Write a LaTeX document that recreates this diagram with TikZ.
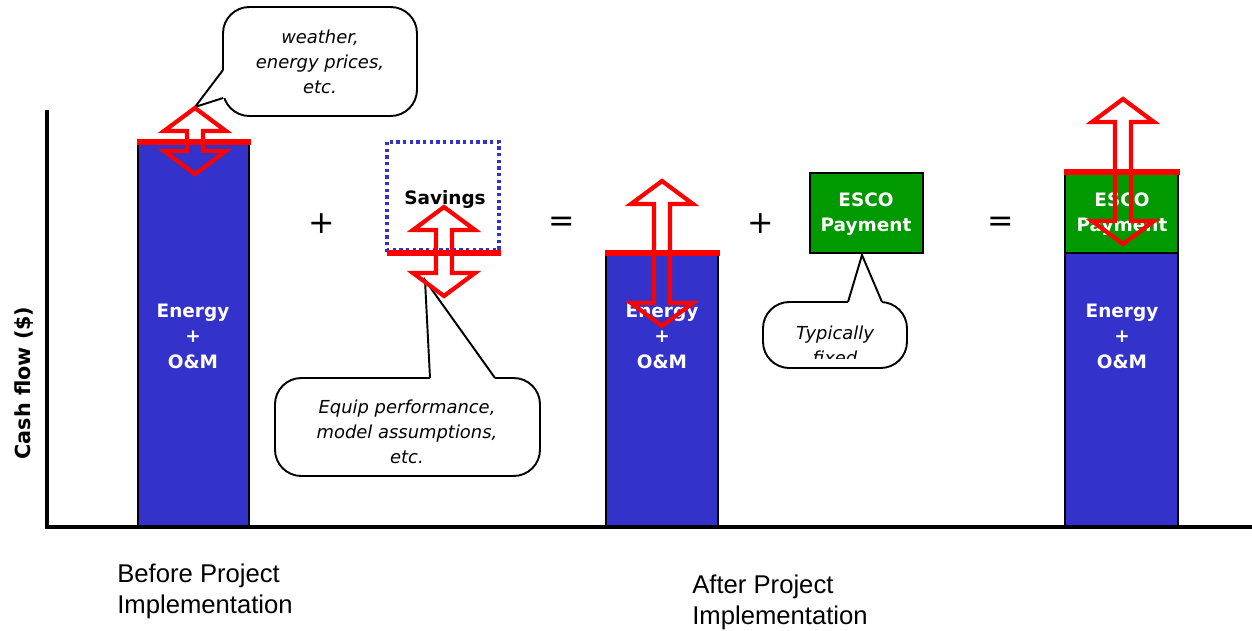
\documentclass[tikz,border=0pt]{standalone}
\usepackage{fontspec}
\setmainfont{DejaVu Sans}
\newfontfamily\labelfont{Liberation Sans}
\definecolor{barblue}{HTML}{3333CC}
\definecolor{escogreen}{HTML}{009900}

\newcommand{\rangearrow}[3]{%
  \draw[flux] (#1,#2) -- (#1+31,#2+23) -- (#1+8,#2+23) -- (#1+8,#3-23) -- (#1+31,#3-23) -- (#1,#3)
    -- (#1-31,#3-23) -- (#1-8,#3-23) -- (#1-8,#2+23) -- (#1-31,#2+23) -- cycle;}

\tikzset{
  flux/.style={draw=red, line width=2.4pt, line join=miter},
  level/.style={red, line width=3.4pt},
  barlabel/.style={text=white, font=\bfseries\fontsize{10.5}{14.5}\selectfont, align=center},
  note/.style={font=\itshape\fontsize{10.2}{14.2}\selectfont, align=center},
  bubble/.style={draw=black, fill=white, line width=1.1pt, rounded corners=15pt},
  sign/.style={font=\fontsize{18}{18}\selectfont},
  caption/.style={anchor=west, align=left, inner sep=0pt, font=\labelfont\fontsize{14.6}{17.6}\selectfont},
}

\begin{document}
\begin{tikzpicture}[x=0.02cm, y=-0.02cm]
    \useasboundingbox (0,0) rectangle (1252,630);

    % Axes
    \draw[line width=2.8pt] (47,110) -- (47,527) -- (1252,527);
    \node[rotate=90, font=\bfseries\fontsize{11.8}{13}\selectfont] (cash) at (24,383) {Cash flow (\$)};

    % Bars
    \draw[fill=barblue, line width=0.85pt] (138,142) rectangle (249,526);
    \draw[fill=barblue, line width=0.85pt] (606,253) rectangle (718,526);
    \draw[fill=barblue, line width=0.85pt] (1065,253) rectangle (1178,526);
    \draw[fill=escogreen, line width=0.85pt] (1065,172) rectangle (1178,253);
    \draw[fill=escogreen, line width=0.85pt] (810,173) rectangle (923,253);

    \node[barlabel] (costA) at (193,336) {Energy\\+\\O\&M};
    \node[barlabel] (costB) at (662,336) {Energy\\+\\O\&M};
    \node[barlabel] (costC) at (1122,336) {Energy\\+\\O\&M};
    \node[barlabel] (esco) at (866,214) {ESCO\\Payment};
    \node[barlabel] (escoC) at (1122,214) {ESCO\\Payment};

    % Savings
    \draw[barblue, line width=1.9pt, dash pattern=on 1.9pt off 1.9pt] (387,142) rectangle (499,250);
    \node[font=\bfseries\fontsize{10.5}{14.5}\selectfont] (savings) at (445,199) {Savings};

    % Levels
    \draw[level] (137,142) -- (251,142);
    \draw[level] (387,253) -- (501,253);
    \draw[level] (605,253) -- (720,253);
    \draw[level] (1064,172) -- (1180,172);

    % Signs
    \node[sign] (plusA) at (322,224) {+};
    \node[sign] (eqA) at (562,224) {=};
    \node[sign] (plusB) at (761,224) {+};
    \node[sign] (eqB) at (1001,224) {=};

    % Callouts
    \coordinate (tipA) at (195,107);
    \draw[bubble] (223,7) rectangle (417,116);
    \fill[white] (221,70) -- (226,70) -- (226,98) -- (221,98) -- cycle;
    \draw[line width=1.1pt] (223,70) -- (tipA) -- (223,98);
    \node[note] (weather) at (320,62) {weather,\\energy prices,\\etc.};

    \coordinate (tipB) at (425,280);
    \draw[bubble] (275,378) rectangle (540,476);
    \fill[white] (430,376) -- (495,376) -- (495,380.5) -- (430,380.5) -- cycle;
    \draw[line width=1.1pt] (430,378) -- (tipB) -- (495,378);
    \node[note] (equip) at (407,432) {Equip performance,\\model assumptions,\\etc.};

    \coordinate (tipC) at (862,255);
    \draw[bubble] (763,302) rectangle (907,368);
    \fill[white] (848,300) -- (882,300) -- (882,304.5) -- (848,304.5) -- cycle;
    \draw[line width=1.1pt] (848,302) -- (tipC) -- (882,302);
    \begin{scope}
        \clip (763,302) rectangle (907,358);
        \node[note] (fixed) at (835,345) {Typically\\fixed};
    \end{scope}

    % Uncertainty arrows
    \rangearrow{195}{108}{174}
    \rangearrow{444}{207}{296}
    \rangearrow{662}{181}{326}
    \rangearrow{1123}{99}{244}

    % Captions
    \node[caption] (before) at (117,591) {Before Project\\Implementation};
    \node[caption] (after) at (692,602) {After Project\\Implementation};
\end{tikzpicture}
\end{document}
